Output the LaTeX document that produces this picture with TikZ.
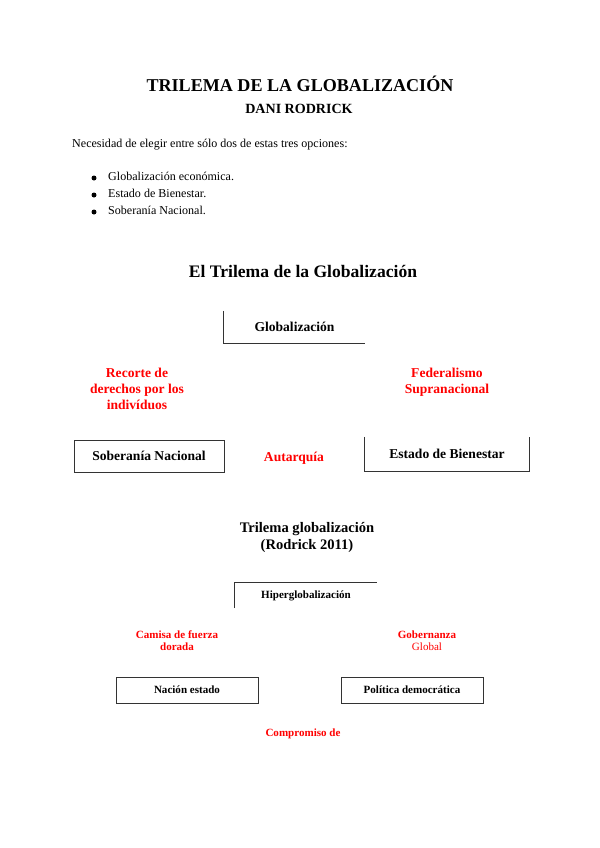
\documentclass[tikz,border=0pt]{standalone}
\usepackage{fontspec}
\setmainfont{Liberation Serif}
\usepackage{tikz}
\usetikzlibrary{positioning}
\newcommand\pxu{0.35mm}

\begin{document}
\begin{tikzpicture}[
    x=0.35mm, y=-0.35mm,
    doctitle/.style={font=\fontsize{18}{21}\selectfont\bfseries, anchor=base},
    docsub/.style={font=\fontsize{14}{17}\selectfont\bfseries, anchor=base},
    bodytext/.style={font=\fontsize{12}{14}\selectfont, anchor=base west, inner sep=0pt},
    dotmark/.style={circle, fill=black, inner sep=0pt, minimum size=5*\pxu},
    figtitle/.style={font=\fontsize{17.5}{20}\selectfont\bfseries, anchor=base, align=center},
    boxsize/.style 2 args={minimum width=#1*\pxu, minimum height=#2*\pxu, inner sep=0pt},
    bigbox/.style={font=\fontsize{13.5}{16}\selectfont\bfseries},
    smallbox/.style={font=\fontsize{11}{13}\selectfont\bfseries},
    boxline/.style={draw=black!80, line width=0.9pt},
    redlabel/.style={text=red, align=center, anchor=base, font=\fontsize{13.5}{15.5}\selectfont\bfseries},
    smallred/.style={redlabel, font=\fontsize{11}{12}\selectfont\bfseries}
  ]
    \path[use as bounding box, fill=white] (0,0) rectangle (600,848);

    % cabecera
    \node[doctitle] (titulo) at (300,91) {TRILEMA DE LA GLOBALIZACIÓN};
    \node[docsub] (autor) at (299,113) {DANI RODRICK};
    \node[bodytext] (intro) at (72,147) {Necesidad de elegir entre sólo dos de estas tres opciones:};

    \foreach \y/\txt [count=\i] in {180/Globalización económica., 197/Estado de Bienestar., 214/Soberanía Nacional.}{
      \node[dotmark] (bul\i) at (94,\y-2) {};
      \node[bodytext] (item\i) at (108,\y) {\txt};
    }

    % primer esquema
    \node[figtitle] (fig1) at (303,277) {El Trilema de la Globalización};

    \node[bigbox, boxsize={141}{32}] (glob) at (294.5,327) {Globalización};
    \node[bigbox, boxsize={150}{32}, boxline] (sob) at (149,456) {Soberanía Nacional};
    \node[bigbox, boxsize={164}{34}] (est) at (447,454) {Estado de Bienestar};
    \draw[boxline] (glob.north west) -- (glob.south west) -- (glob.south east);
    \draw[boxline] (est.north west) -- (est.south west) -- (est.south east) -- (est.north east);

    % ultima linea en la base
    \node[redlabel] (recorte) at (137,409) {Recorte de\\derechos por los\\indivíduos};
    \node[redlabel] (federal) at (447,393) {Federalismo\\Supranacional};
    \node[redlabel] (autarq) at (294,461) {Autarquía};

    % segundo esquema
    \node[figtitle, font=\fontsize{14.5}{16.5}\selectfont\bfseries] (fig2) at (307,549) {Trilema globalización\\(Rodrick 2011)};

    \node[smallbox, boxsize={142}{25}] (hiper) at (306,595.5) {Hiperglobalización};
    \node[smallbox, boxsize={142}{26}, boxline] (nacion) at (187,690) {Nación estado};
    \node[smallbox, boxsize={142}{26}, boxline] (politica) at (412,690) {Política democrática};
    \draw[boxline] (hiper.south west) -- (hiper.north west) -- (hiper.north east);

    \node[smallred] (camisa) at (177,650.5) {Camisa de fuerza\\dorada};
    \node[smallred] (gober) at (427,650.5) {Gobernanza\\{\mdseries Global}};
    \node[smallred] (compro) at (303,736) {Compromiso de};
  \end{tikzpicture}
\end{document}
